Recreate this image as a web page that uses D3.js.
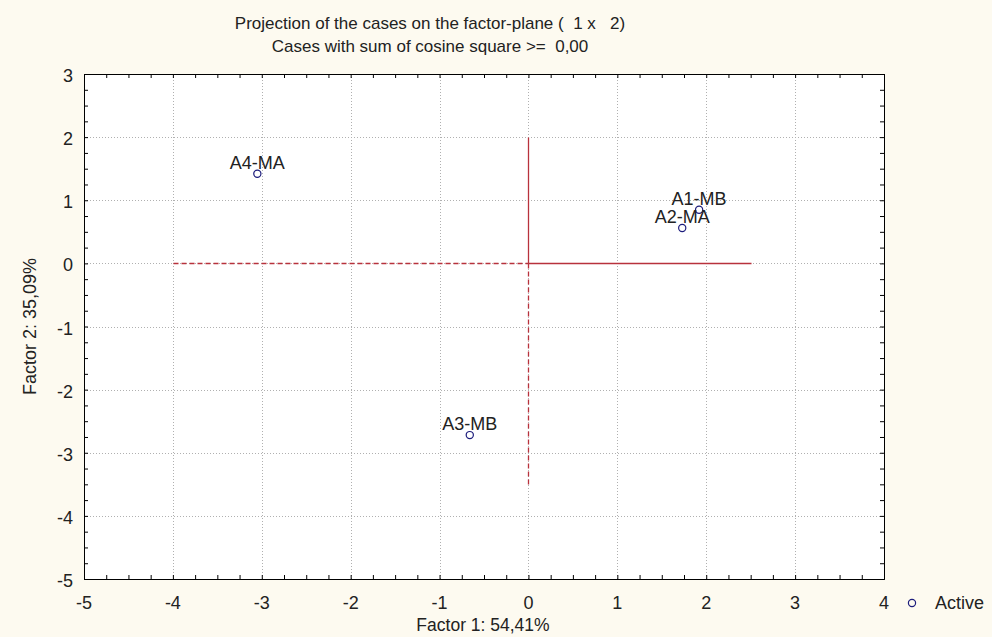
<!DOCTYPE html>
<html><head><meta charset="utf-8">
<script src="https://cdn.jsdelivr.net/npm/d3@7"></script>
<style>
html,body{margin:0;padding:0;background:#fdfaf0;}
svg{display:block;font-family:"Liberation Sans",Arial,sans-serif;}
svg text{white-space:pre;}
</style></head>
<body><svg id="c" width="992" height="637"></svg>
<script>
const titleLines = ["Projection of the cases on the factor-plane (  1 x   2)", "Cases with sum of cosine square >=  0,00"];
const caseLabels = ["A1-MB", "A2-MA", "A3-MB", "A4-MA"];
const factor1 = [1.92, 1.73, -0.66, -3.05];
const factor2 = [0.85, 0.56, -2.72, 1.42];
const xTicks = [-5, -4, -3, -2, -1, 0, 1, 2, 3, 4];
const yTicks = [-5, -4, -3, -2, -1, 0, 1, 2, 3];
const xTitle = "Factor 1: 54,41%";
const yTitle = "Factor 2: 35,09%";
const legendLabel = "Active";
// reference axes lines (dashed / solid segments)
const refSegments = [
  {x1: -4, y1: 0, x2: 0, y2: 0, dash: "5,3"},
  {x1: 0, y1: 0, x2: 2.5, y2: 0, dash: null},
  {x1: 0, y1: 0, x2: 0, y2: 2, dash: null},
  {x1: 0, y1: 0, x2: 0, y2: -3.5, dash: "5,3"}
];

const svg = d3.select("#c");
const L = 84, R = 884, T = 74, B = 579;
const x = d3.scaleLinear().domain([-5, 4]).range([L, R]);
const y = d3.scaleLinear().domain([-5, 3]).range([B, T]);
const textColor = "#222";

svg.append("rect").attr("x", L).attr("y", T).attr("width", R - L).attr("height", B - T).attr("fill", "#fff");

// grid
const g = svg.append("g").attr("stroke", "#b0b0b0").attr("stroke-width", 1).attr("stroke-dasharray", "1,2");
g.selectAll(".gx").data(xTicks.slice(1, -1)).join("line")
  .attr("x1", d => Math.round(x(d)) + 0.5).attr("x2", d => Math.round(x(d)) + 0.5).attr("y1", T).attr("y2", B);
g.selectAll(".gy").data(yTicks.slice(1, -1)).join("line")
  .attr("y1", d => Math.round(y(d)) + 0.5).attr("y2", d => Math.round(y(d)) + 0.5).attr("x1", L).attr("x2", R);

// reference lines
svg.append("g").selectAll("line").data(refSegments).join("line")
  .attr("x1", d => Math.round(x(d.x1)) + 0.5).attr("y1", d => Math.round(y(d.y1)) + 0.5)
  .attr("x2", d => Math.round(x(d.x2)) + 0.5).attr("y2", d => Math.round(y(d.y2)) + 0.5)
  .attr("stroke", "#b8323c").attr("stroke-width", 1.3)
  .attr("stroke-dasharray", d => d.dash);

// axes with inward ticks
const minorX = d3.range(-5, 4.001, 0.25);
const minorY = d3.range(-5, 3.001, 0.25);
const axB = d3.axisBottom(x).tickValues(minorX).tickSize(-4).tickFormat("");
const axT = d3.axisTop(x).tickValues(minorX).tickSize(-4).tickFormat("");
const axL = d3.axisLeft(y).tickValues(minorY).tickSize(-4).tickFormat("");
const axR = d3.axisRight(y).tickValues(minorY).tickSize(-4).tickFormat("");
[[axB, `translate(0,${B})`], [axT, `translate(0,${T})`], [axL, `translate(${L},0)`], [axR, `translate(${R},0)`]].forEach(([a, t]) => {
  const ga = svg.append("g").attr("transform", t).call(a);
  ga.select(".domain").attr("stroke", "#000");
  ga.selectAll(".tick line").attr("stroke", "#000");
});

// tick labels
svg.append("g").selectAll("text").data(xTicks).join("text")
  .attr("x", d => x(d)).attr("y", 609).attr("text-anchor", "middle")
  .attr("font-size", 18).attr("fill", textColor).text(d => d);
svg.append("g").selectAll("text").data(yTicks).join("text")
  .attr("x", 73).attr("y", d => y(d) + 8).attr("text-anchor", "end")
  .attr("font-size", 18).attr("fill", textColor).text(d => d);

// titles
svg.append("g").selectAll("text").data(titleLines).join("text")
  .attr("x", 430).attr("y", (d, i) => 29 + i * 23).attr("text-anchor", "middle")
  .attr("font-size", 17).attr("fill", textColor).text(d => d);
svg.append("text").attr("x", 483).attr("y", 631).attr("text-anchor", "middle")
  .attr("font-size", 17.5).attr("fill", textColor).text(xTitle);
svg.append("text").attr("transform", `translate(36,${(T + B) / 2}) rotate(-90)`).attr("text-anchor", "middle")
  .attr("font-size", 18).attr("fill", textColor).text(yTitle);

// points
const pts = caseLabels.map((l, i) => ({l, fx: factor1[i], fy: factor2[i]}));
svg.append("g").selectAll("circle").data(pts).join("circle")
  .attr("cx", d => x(d.fx)).attr("cy", d => y(d.fy)).attr("r", 3.6)
  .attr("fill", "none").attr("stroke", "#1c1c7c").attr("stroke-width", 1.2);
svg.append("g").selectAll("text").data(pts).join("text")
  .attr("x", d => x(d.fx)).attr("y", d => y(d.fy) - 5).attr("text-anchor", "middle")
  .attr("font-size", 18).attr("fill", textColor).text(d => d.l);

// legend
svg.append("circle").attr("cx", 912).attr("cy", 603).attr("r", 3.6)
  .attr("fill", "none").attr("stroke", "#1c1c7c").attr("stroke-width", 1.2);
svg.append("text").attr("x", 935).attr("y", 609).attr("font-size", 18).attr("fill", textColor).text(legendLabel);
</script></body></html>
